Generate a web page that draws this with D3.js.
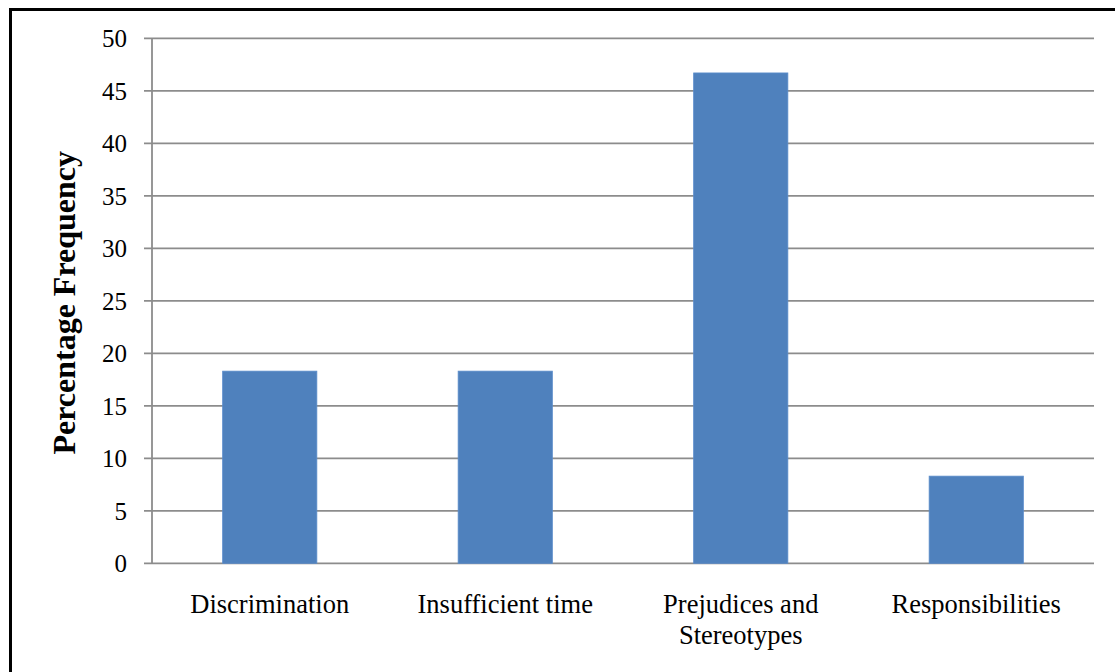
<!DOCTYPE html>
<html>
<head>
<meta charset="utf-8">
<script src="https://cdn.jsdelivr.net/npm/d3@7"></script>
<style>
  html, body { margin: 0; padding: 0; background: #fff; }
  svg { display: block; }
  text { font-family: "Liberation Serif", "Times New Roman", serif; }
</style>
</head>
<body>
<svg id="chart" width="1115" height="672"></svg>
<script>
const categories = [["Discrimination"], ["Insufficient time"], ["Prejudices and", "Stereotypes"], ["Responsibilities"]];
const values = [18.3, 18.3, 46.7, 8.3];
const yTicks = [0, 5, 10, 15, 20, 25, 30, 35, 40, 45, 50];
const yTitle = "Percentage Frequency";

(function () {
const svg = d3.select("#chart");
const W = 1115, H = 672;
const mLeft = 152, mRight = 1094, mTop = 38.3, mBottom = 563.3;

// outer frame
svg.append("rect")
  .attr("x", 10.5).attr("y", 9.5)
  .attr("width", W + 20).attr("height", H + 20)
  .attr("fill", "none").attr("stroke", "#000").attr("stroke-width", 3);

const keys = categories.map((c, i) => i);
const x = d3.scaleBand().domain(keys).range([mLeft, mRight]).paddingInner(0.6).paddingOuter(0.3);
const y = d3.scaleLinear().domain([0, 50]).range([mBottom, mTop]);

// gridlines
svg.append("g").selectAll("line").data(yTicks).join("line")
  .attr("x1", mLeft - 8).attr("x2", mRight)
  .attr("y1", d => y(d)).attr("y2", d => y(d))
  .attr("stroke", "#8c8c8c").attr("stroke-width", 1.8);

// y axis line
svg.append("line")
  .attr("x1", mLeft).attr("x2", mLeft)
  .attr("y1", y(50)).attr("y2", y(0))
  .attr("stroke", "#8c8c8c").attr("stroke-width", 1.8);

// y tick labels
const yAxis = d3.axisLeft(y).tickValues(yTicks).tickSize(0).tickPadding(25);
const gy = svg.append("g").attr("transform", `translate(${mLeft},0)`).call(yAxis);
gy.select(".domain").remove();
gy.attr("font-family", null).attr("font-size", null);
gy.selectAll("text")
  .style("font-family", '"Liberation Serif", serif').attr("font-size", 25).attr("fill", "#000")
  .attr("dy", "0.33em");

// bars
svg.append("g").selectAll("rect").data(values).join("rect")
  .attr("x", (d, i) => x(i))
  .attr("y", d => y(d))
  .attr("width", x.bandwidth())
  .attr("height", d => y(0) - y(d))
  .attr("fill", "#4f81bd")
  .attr("stroke", "#5a8ccb").attr("stroke-width", 0.8);

// category labels
const gl = svg.append("g");
categories.forEach((lines, i) => {
  const cx = x(i) + x.bandwidth() / 2;
  const t = gl.append("text")
    .attr("x", cx)
    .attr("y", 613)
    .attr("text-anchor", "middle")
    .attr("font-size", 26.5).attr("fill", "#000");
  lines.forEach((ln, j) => {
    t.append("tspan").attr("x", cx).attr("dy", j === 0 ? 0 : 31).text(ln);
  });
});

// y title
svg.append("text")
  .attr("transform", `translate(75,${(mTop + mBottom) / 2 + 2}) rotate(-90)`)
  .attr("text-anchor", "middle")
  .attr("font-size", 32).attr("font-weight", "bold").attr("fill", "#000")
  .text(yTitle);
})();
</script>
</body>
</html>
